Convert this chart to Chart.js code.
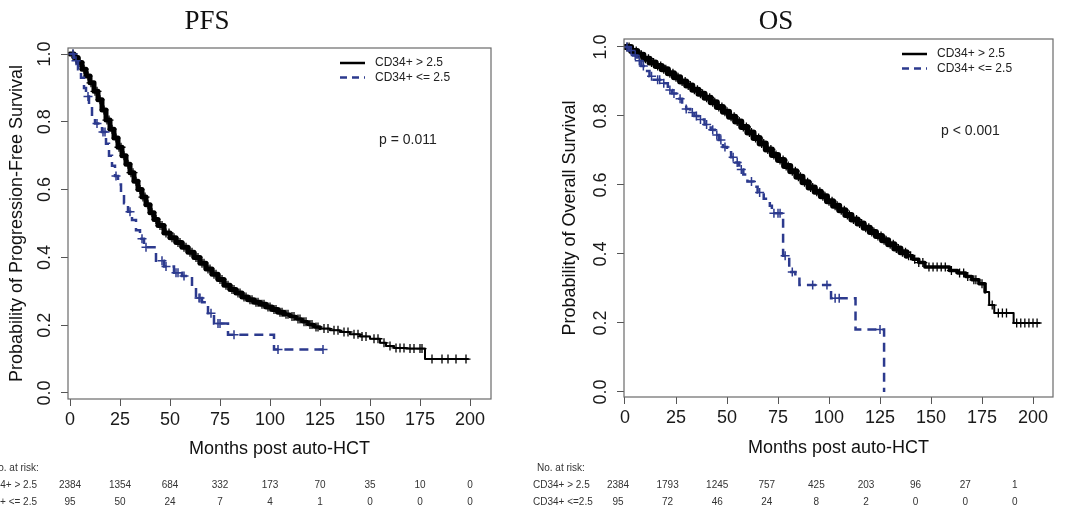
<!DOCTYPE html>
<html>
<head>
<meta charset="utf-8">
<script src="https://cdn.jsdelivr.net/npm/chart.js@4"></script>
<style>
  html, body { margin: 0; padding: 0; background: #fff; }
  body { width: 1080px; height: 513px; position: relative; overflow: hidden; }
  canvas { position: absolute; top: 0; }
  #pfsChart { left: -50px; }
  #osChart { left: 520px; }
</style>
</head>
<body>
<canvas id="pfsChart" width="590" height="513"></canvas>
<canvas id="osChart" width="560" height="513"></canvas>
<script>
// Axis ticks
const xTicks = [0, 25, 50, 75, 100, 125, 150, 175, 200];
const yTicks = [0, 0.2, 0.4, 0.6, 0.8, 1.0];
const yTickLabels = ['0.0', '0.2', '0.4', '0.6', '0.8', '1.0'];

// PFS, CD34+ > 2.5 (step times / survival)
const pfsHighT = [0, 2, 4, 6, 8, 10, 12, 14, 16, 18, 20, 22, 24, 26, 28, 30, 32, 34, 36, 38,
  40, 42, 44, 47, 50, 53, 56, 59, 62, 65, 68, 71, 74, 77, 80, 83, 86, 89, 92, 95,
  98, 101, 104, 107, 110, 113, 116, 119, 122, 125, 130, 135, 140, 145, 150, 155, 158, 162, 168, 177.5, 199];
const pfsHighS = [1, 0.99, 0.975, 0.955, 0.935, 0.915, 0.89, 0.865, 0.835, 0.805, 0.778, 0.752, 0.725, 0.70, 0.675, 0.65, 0.625, 0.60, 0.578, 0.555,
  0.532, 0.512, 0.494, 0.472, 0.458, 0.444, 0.43, 0.415, 0.40, 0.383, 0.366, 0.35, 0.335, 0.318, 0.305, 0.295, 0.283, 0.275, 0.268, 0.262,
  0.254, 0.246, 0.238, 0.232, 0.226, 0.218, 0.21, 0.202, 0.195, 0.19, 0.185, 0.18, 0.173, 0.167, 0.16, 0.148, 0.139, 0.133, 0.131, 0.1, 0.1];
const pfsHighCensor = [1.5, 3, 5, 7, 9, 10.5, 12.5, 13.5, 15, 17, 18.5, 19.5, 21, 23, 24.5, 25.5, 27, 29, 30.5, 31.5,
  33, 35, 36.5, 37.5, 39, 41, 43, 45, 46, 48, 49.5, 51, 52, 54, 55, 57, 58, 60, 61, 63, 64, 66, 67, 69, 70, 72, 73,
  75, 76, 78, 79, 81, 82, 84, 85, 87, 88, 90, 91, 93, 94, 96, 97, 99, 100, 102, 103, 105, 106, 108, 109, 111, 112,
  114, 115, 117, 118, 120, 121, 123, 124, 127, 129, 132, 134, 137, 139, 142, 144, 146, 148, 152, 154, 157, 160,
  163, 165, 167, 170, 172, 175, 176, 181, 186, 189, 193, 198];

// PFS, CD34+ <= 2.5
const pfsLowT = [0, 2, 4, 5.5, 7, 8, 9.5, 11, 12.5, 16, 18, 19.5, 21, 22.5, 24, 25.5, 27, 29, 31, 33,
  35, 37, 43, 47, 52, 56, 61, 63, 66, 69, 72, 79, 102, 126.5];
const pfsLowS = [1, 0.98, 0.955, 0.93, 0.9, 0.875, 0.845, 0.815, 0.795, 0.77, 0.735, 0.70, 0.67, 0.64, 0.615, 0.585, 0.56, 0.535, 0.51, 0.48,
  0.455, 0.43, 0.39, 0.373, 0.355, 0.345, 0.315, 0.28, 0.268, 0.235, 0.205, 0.172, 0.128, 0.128];
const pfsLowCensor = [1.5, 3, 9, 13.5, 16.5, 17.5, 23, 30, 36, 38, 46, 48, 53, 54, 57, 64.5, 65, 70.5, 74, 75, 82, 104, 126.5];

// OS, CD34+ > 2.5
const osHighT = [0, 3, 6, 9, 12, 15, 18, 21, 24, 27, 30, 33, 36, 39, 42, 45, 48, 51, 54, 57,
  60, 63, 66, 69, 72, 75, 78, 81, 84, 87, 90, 93, 96, 99, 102, 105, 108, 111, 114, 117,
  120, 123, 126, 129, 132, 135, 138, 141, 144, 147, 159, 163, 167, 170, 173.5, 176.5, 178.5, 181, 190.5, 203];
const osHighS = [1, 0.988, 0.977, 0.966, 0.955, 0.945, 0.935, 0.924, 0.912, 0.9, 0.888, 0.876, 0.864, 0.853, 0.84, 0.826, 0.812, 0.798, 0.784, 0.768,
  0.752, 0.736, 0.72, 0.703, 0.687, 0.672, 0.655, 0.64, 0.624, 0.608, 0.593, 0.58, 0.567, 0.553, 0.54, 0.527, 0.513, 0.5, 0.488, 0.476,
  0.464, 0.452, 0.44, 0.428, 0.416, 0.405, 0.395, 0.385, 0.375, 0.362, 0.352, 0.345, 0.335, 0.325, 0.314, 0.29, 0.252, 0.229, 0.2, 0.2];
const osHighCensor = [1, 2, 4, 5.5, 7, 8, 10, 11.5, 13, 14, 16, 17.5, 19, 20, 22, 23.5, 25, 26, 28, 29.5,
  31, 32, 34, 35.5, 37, 38, 40, 41.5, 43, 44, 46, 47.5, 49, 50, 52, 53.5, 55, 56, 58, 59.5, 61, 62, 64, 65.5,
  67, 68, 70, 71.5, 73, 74, 76, 77.5, 79, 80, 82, 83.5, 85, 86, 88, 89.5, 91, 92, 94, 95.5, 97, 98, 100, 101.5,
  103, 104, 106, 107.5, 109, 110, 112, 113.5, 115, 116, 118, 119.5, 121, 122, 124, 125.5, 127, 128, 130, 131.5,
  133, 134, 136, 137.5, 139, 140, 142, 144, 146, 149, 151, 153, 155, 157, 160, 164, 166, 168, 171, 172,
  175, 180, 183, 185, 187, 192, 194, 196, 198, 200, 202];

// OS, CD34+ <= 2.5
const osLowT = [0, 2, 4, 6, 8, 10, 12, 14, 18, 21, 23, 26, 28, 30, 32, 34, 36, 39, 42, 44,
  46, 48, 50, 52, 54, 56, 58, 60, 63, 65, 68, 71, 72, 77.5, 80.5, 83.5, 85.5, 101, 113, 127];
const osLowS = [1, 0.99, 0.975, 0.96, 0.945, 0.93, 0.915, 0.905, 0.895, 0.875, 0.865, 0.85, 0.835, 0.82, 0.81, 0.80, 0.79, 0.775, 0.76, 0.745,
  0.73, 0.71, 0.695, 0.68, 0.665, 0.645, 0.63, 0.61, 0.595, 0.578, 0.56, 0.54, 0.518, 0.395, 0.348, 0.333, 0.31, 0.272, 0.181, 0];
const osLowCensor = [1, 3, 5, 7, 9, 13, 16, 17, 19, 22, 24, 27, 30, 33, 35, 37, 40, 43, 45, 47, 49, 53, 55, 57,
  62, 66, 73, 75, 76, 78.5, 82, 92, 99, 103, 105, 125];

// Numbers at risk
const riskTimes = [0, 25, 50, 75, 100, 125, 150, 175, 200];
const pfsRiskHigh = [2384, 1354, 684, 332, 173, 70, 35, 10, 0];
const pfsRiskLow = [95, 50, 24, 7, 4, 1, 0, 0, 0];
const osRiskHigh = [2384, 1793, 1245, 757, 425, 203, 96, 27, 1];
const osRiskLow = [95, 72, 46, 24, 8, 2, 0, 0, 0];

const FONT = "'Liberation Sans', Arial, Helvetica, sans-serif";
const BLUE = '#2c3a8e';

// value of a KM step curve at time t
function stepAt(times, surv, t) {
  let s = surv[0];
  for (let i = 0; i < times.length; i++) {
    if (times[i] <= t) s = surv[i];
  }
  return s;
}

function curve(times, surv) {
  return times.map((t, i) => ({ x: t, y: surv[i] }));
}

function censorMarks(times, surv, cens) {
  return cens.map(t => ({ x: t, y: stepAt(times, surv, t) }));
}

// box, rotated y labels, title, legend, p value and the at-risk table
const kmDecor = {
  id: 'kmDecor',
  afterDraw(chart, args, o) {
    const { ctx, chartArea: a, scales: { x, y } } = chart;
    ctx.save();

    ctx.strokeStyle = '#6a6a6a';
    ctx.lineWidth = 1.2;
    ctx.strokeRect(a.left, a.top, a.right - a.left, a.bottom - a.top);

    ctx.fillStyle = '#1a1a1a';
    ctx.font = '18px ' + FONT;
    ctx.textAlign = 'center';
    ctx.textBaseline = 'middle';
    yTicks.forEach((v, i) => {
      ctx.save();
      ctx.translate(a.left - 23, y.getPixelForValue(v));
      ctx.rotate(-Math.PI / 2);
      ctx.fillText(yTickLabels[i], 0, 0);
      ctx.restore();
    });

    ctx.font = '27px "Liberation Serif", "Times New Roman", serif';
    ctx.fillStyle = '#111';
    ctx.textBaseline = 'alphabetic';
    ctx.fillText(o.title, o.titleX, 28.5);

    // legend
    const lx = a.right - 151;
    ctx.font = '12px ' + FONT;
    ctx.textAlign = 'left';
    ctx.textBaseline = 'middle';
    o.legend.forEach((lab, i) => {
      const ly = a.top + 15 + i * 14.5;
      ctx.beginPath();
      ctx.lineWidth = 2.5;
      ctx.strokeStyle = i === 0 ? '#000' : BLUE;
      ctx.setLineDash(i === 0 ? [] : [7, 5]);
      ctx.moveTo(lx, ly);
      ctx.lineTo(lx + 25, ly);
      ctx.stroke();
      ctx.setLineDash([]);
      ctx.fillStyle = '#222';
      ctx.fillText(lab, lx + 35, ly);
    });

    ctx.font = '14px ' + FONT;
    ctx.fillText(o.pText, a.right - 112, a.top + 92);

    // numbers at risk
    ctx.fillStyle = '#333';
    ctx.font = '10px ' + FONT;
    ctx.fillText('No. at risk:', o.noX, 468);
    const p0 = x.getPixelForValue(0);
    o.rows.forEach((row, r) => {
      const ry = 485 + r * 17;
      ctx.textAlign = o.rowAlign;
      ctx.fillText(o.rowNames[r], o.rowX, ry);
      ctx.textAlign = 'center';
      row.forEach((n, i) => {
        const px = x.getPixelForValue(riskTimes[i]);
        ctx.fillText(String(n), p0 + o.tableShift + (px - p0) * o.tableStretch, ry);
      });
    });
    ctx.restore();
  }
};

function kmChart(id, cfg) {
  const widthFor = (lo, mid) => c => c.p0.parsed.x < lo ? cfg.thick[0] : (c.p0.parsed.x < mid ? cfg.thick[1] : 2);
  const datasets = [
    { data: curve(cfg.lowT, cfg.lowS), stepped: true, borderColor: BLUE, borderWidth: 2.5,
      borderDash: [9, 6], pointRadius: 0, fill: false },
    { type: 'scatter', data: censorMarks(cfg.lowT, cfg.lowS, cfg.lowC), pointStyle: 'cross',
      pointRadius: 4.5, borderColor: BLUE, borderWidth: 1.5, showLine: false },
    { type: 'scatter', data: censorMarks(cfg.highT, cfg.highS, cfg.highC), pointStyle: 'cross',
      pointRadius: 4.5, borderColor: '#000', borderWidth: 1.3, showLine: false },
    { data: curve(cfg.highT, cfg.highS), stepped: true, borderColor: '#000', borderWidth: 2,
      borderJoinStyle: 'round', borderCapStyle: 'round',
      pointRadius: 0, fill: false, segment: { borderWidth: widthFor(cfg.thickTo[0], cfg.thickTo[1]) } }
  ];
  return new Chart(document.getElementById(id), {
    type: 'line',
    data: { datasets },
    plugins: [kmDecor],
    options: {
      responsive: false,
      animation: false,
      layout: { padding: { left: 0, top: cfg.area.top, right: cfg.width - cfg.area.right, bottom: 0 } },
      plugins: {
        legend: { display: false },
        tooltip: { enabled: false },
        kmDecor: cfg.decor
      },
      scales: {
        x: {
          type: 'linear',
          min: cfg.xRange[0],
          max: cfg.xRange[1],
          afterBuildTicks: s => { s.ticks = xTicks.map(v => ({ value: v })); },
          afterFit: s => { s.height = 513 - cfg.area.bottom; },
          border: { display: false },
          grid: { drawOnChartArea: false, drawTicks: true, tickLength: 7, color: '#555' },
          ticks: { font: { family: FONT, size: 18 }, color: '#1a1a1a', padding: 3, maxRotation: 0, autoSkip: false },
          title: { display: true, text: 'Months post auto-HCT', color: '#111',
                   font: { family: FONT, size: 18 }, padding: { top: 0, bottom: cfg.xTitlePad } }
        },
        y: {
          type: 'linear',
          min: cfg.yRange[0],
          max: cfg.yRange[1],
          afterBuildTicks: s => { s.ticks = yTicks.map(v => ({ value: v })); },
          afterFit: s => { s.width = cfg.area.left; },
          border: { display: false },
          grid: { drawOnChartArea: false, drawTicks: true, tickLength: 7, color: '#555' },
          ticks: { display: false },
          title: { display: true, text: cfg.yTitle, color: '#111',
                   font: { family: FONT, size: 18 }, padding: { top: cfg.yTitlePad, bottom: 0 } }
        }
      }
    }
  });
}

kmChart('pfsChart', {
  width: 590,
  area: { left: 118, right: 541, top: 48, bottom: 399 },
  xRange: [-1, 210.5],
  yRange: [-0.0177, 1.0177],
  xTitlePad: 53,
  yTitlePad: 56,
  yTitle: 'Probability of Progression-Free Survival',
  highT: pfsHighT, highS: pfsHighS, highC: pfsHighCensor,
  lowT: pfsLowT, lowS: pfsLowS, lowC: pfsLowCensor,
  thick: [5, 3.5], thickTo: [105, 125],
  decor: {
    title: 'PFS', titleX: 257, pText: 'p = 0.011',
    legend: ['CD34+ > 2.5', 'CD34+ <= 2.5'],
    rows: [pfsRiskHigh, pfsRiskLow], rowNames: ['CD34+ > 2.5', 'CD34+ <= 2.5'],
    noX: 41, rowX: 87, rowAlign: 'right', tableShift: 0, tableStretch: 1
  }
});

kmChart('osChart', {
  width: 560,
  area: { left: 104, right: 533, top: 39, bottom: 397 },
  xRange: [-0.49, 209.8],
  yRange: [-0.0145, 1.023],
  xTitlePad: 54,
  yTitlePad: 39,
  yTitle: 'Probability of Overall Survival',
  highT: osHighT, highS: osHighS, highC: osHighCensor,
  lowT: osLowT, lowS: osLowS, lowC: osLowCensor,
  thick: [6, 3.5], thickTo: [138, 175],
  decor: {
    title: 'OS', titleX: 256, pText: 'p < 0.001',
    legend: ['CD34+ > 2.5', 'CD34+ <= 2.5'],
    rows: [osRiskHigh, osRiskLow], rowNames: ['CD34+ > 2.5', 'CD34+ <=2.5'],
    noX: 17, rowX: 13, rowAlign: 'left', tableShift: -7, tableStretch: 0.9725
  }
});
</script>
</body>
</html>
